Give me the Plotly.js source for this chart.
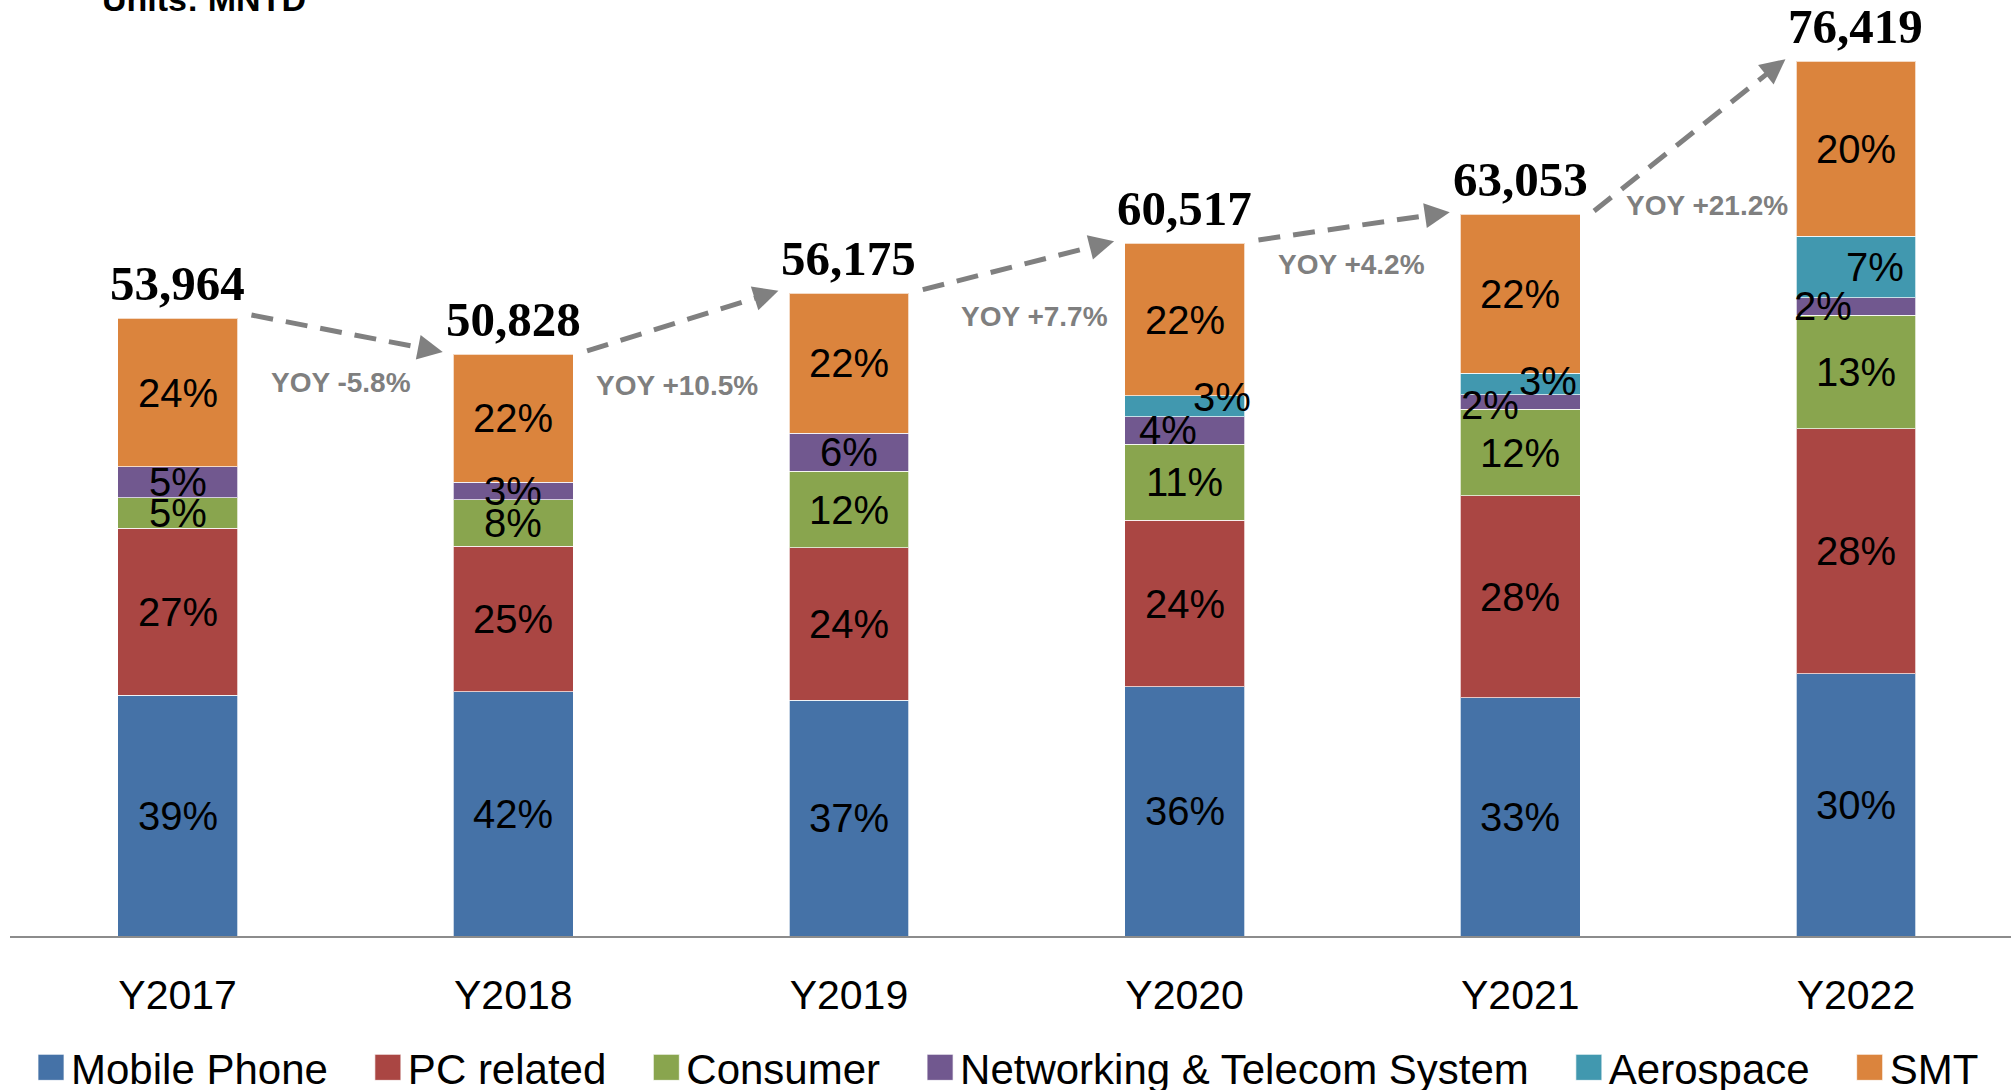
<!DOCTYPE html>
<html><head><meta charset="utf-8">
<script src="https://cdn.plot.ly/plotly-3.0.1.min.js"></script>
<style>html,body{margin:0;padding:0;background:#fff;}#chart{width:2011px;height:1090px;}</style>
</head><body><div id="chart"></div>
<script>
// ---- data ----
const years = ['Y2017','Y2018','Y2019','Y2020','Y2021','Y2022'];
const totals = [53964, 50828, 56175, 60517, 63053, 76419];
const seriesNames = ['Mobile Phone','PC related','Consumer','Networking & Telecom System','Aerospace','SMT'];
const mobilePct = [39, 42, 37, 36, 33, 30];
const pcPct = [27, 25, 24, 24, 28, 28];
const consumerPct = [5, 8, 12, 11, 12, 13];
const networkPct = [5, 3, 6, 4, 2, 2];
const aerospacePct = [null, null, null, 3, 3, 7];
const smtPct = [24, 22, 22, 22, 22, 20];
const yoyPct = [-5.8, 10.5, 7.7, 4.2, 21.2];
const unitsText = 'Units: MNTD';

// ---- style ----
const colors = ['#4572A7','#AA4643','#89A54E','#71588F','#4198AF','#DB843D'];
const pctSeries = [mobilePct, pcPct, consumerPct, networkPct, aerospacePct, smtPct];
const pctFont = {family: '"Liberation Sans", Arial, sans-serif', size: 40, color: '#000'};
// label nudges in pixels for crowded small segments [xshift, yshift], key "series-year"
const nudge = {'4-3':[37,9], '3-3':[-17,0], '3-4':[-30,-3], '4-4':[28,3], '4-5':[19,0], '3-5':[-33,0]};
// YOY label nudges in pixels [xshift, yshift]
const yoyNudge = [[-4,3],[-4,-13],[18,1],[-1,14],[19,-18]];
const legendPad = '\u00a0\u00a0\u00a0';

// shares -> values in MNTD
const yearSum = years.map((_, i) => pctSeries.reduce((a, s) => a + (s[i] || 0), 0));
const values = pctSeries.map(s => s.map((p, i) => p == null ? null : p / yearSum[i] * totals[i]));

const traces = seriesNames.map((name, k) => ({
  type: 'bar', name: name + legendPad, x: years, y: values[k],
  marker: {color: colors[k], line: {color: 'rgba(255,255,255,0.7)', width: 1}},
  width: 0.357, hoverinfo: 'skip'
}));

const annotations = [];
years.forEach((yr, i) => {
  let base = 0;
  pctSeries.forEach((s, k) => {
    const v = values[k][i];
    if (v == null) return;
    const nd = nudge[k + '-' + i] || [0, 0];
    annotations.push({x: yr, y: base + v / 2, xref: 'x', yref: 'y', text: s[i] + '%',
      showarrow: false, font: pctFont, xshift: nd[0], yshift: nd[1]});
    base += v;
  });
  annotations.push({x: yr, y: totals[i], xref: 'x', yref: 'y', text: totals[i].toLocaleString('en-US'),
    showarrow: false, yanchor: 'bottom', yshift: 5,
    font: {family: '"Liberation Serif", "Times New Roman", serif', size: 49, color: '#000', weight: 'bold'}});
});

const shapes = [];
for (let i = 0; i < yoyPct.length; i++) {
  const x0 = i + 0.22, y0 = totals[i] + 300;
  const x1 = i + 0.79, y1 = totals[i + 1] + 200;
  const xm = x0 + (x1 - x0) * 0.9, ym = y0 + (y1 - y0) * 0.9;
  shapes.push({type: 'line', xref: 'x', yref: 'y', x0: x0, y0: y0, x1: xm, y1: ym,
    line: {color: '#808080', width: 5, dash: '22px,13px'}});
  annotations.push({x: x1, y: y1, ax: xm, ay: ym, xref: 'x', yref: 'y', axref: 'x', ayref: 'y',
    text: '', showarrow: true, arrowhead: 2, arrowsize: 1, arrowwidth: 5, arrowcolor: '#808080'});
  const v = yoyPct[i];
  annotations.push({x: i + 0.5, y: (totals[i] + totals[i + 1]) / 2 - 4300, xref: 'x', yref: 'y',
    text: 'YOY ' + (v >= 0 ? '+' : '') + v.toFixed(1) + '%', showarrow: false,
    xshift: yoyNudge[i][0], yshift: yoyNudge[i][1],
    font: {family: '"Liberation Sans", Arial, sans-serif', size: 28, color: '#7f7f7f', weight: 'bold'}});
}

annotations.push({xref: 'paper', yref: 'paper', x: 0.045, y: 1, xanchor: 'left', yanchor: 'bottom',
  text: unitsText, showarrow: false,
  font: {family: '"Liberation Sans", Arial, sans-serif', size: 34, color: '#000', weight: 'bold'}});

const layout = {
  width: 2011, height: 1090,
  margin: {l: 10, r: 0, t: 20, b: 154, autoexpand: false},
  paper_bgcolor: '#fff', plot_bgcolor: '#fff',
  barmode: 'stack', bargap: 0,
  showlegend: true,
  legend: {orientation: 'h', x: 0.0105, xanchor: 'left', y: -0.1065, yanchor: 'top',
    font: {family: '"Liberation Sans", Arial, sans-serif', size: 42, color: '#000'},
    traceorder: 'normal', itemclick: false, itemdoubleclick: false},
  xaxis: {type: 'category', range: [-0.4993, 5.462], showline: true, linecolor: '#8c8c8c', linewidth: 2,
    ticks: '', showgrid: false, zeroline: false, ticklabelstandoff: 22,
    tickfont: {family: '"Liberation Sans", Arial, sans-serif', size: 41, color: '#000'}},
  yaxis: {range: [0, 80042], visible: false, showgrid: false, zeroline: false},
  annotations: annotations, shapes: shapes,
  hovermode: false
};

Plotly.newPlot('chart', traces, layout, {displayModeBar: false, staticPlot: true}).then(() => {
  document.querySelectorAll('.legend .legendpoints path').forEach(p => p.setAttribute('d', 'M13,13H-13V-13H13Z'));
});
</script>
</body></html>
